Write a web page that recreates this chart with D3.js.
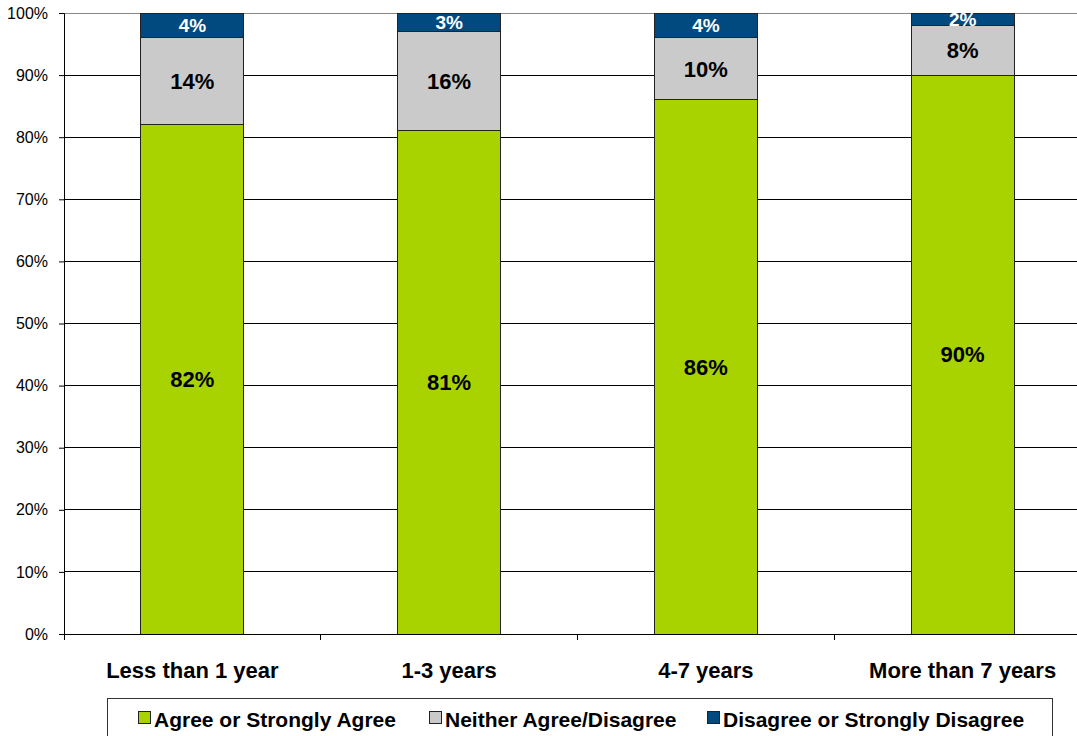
<!DOCTYPE html>
<html>
<head>
<meta charset="utf-8">
<script src="https://cdn.jsdelivr.net/npm/d3@7"></script>
<style>
  html, body { margin: 0; padding: 0; background: #fff; }
  svg { display: block; font-family: "Liberation Sans", Arial, sans-serif; }
</style>
</head>
<body>
<svg id="chart" width="1077" height="736"></svg>
<script>
// Tenure groups along the x axis
const categories = ["Less than 1 year", "1-3 years", "4-7 years", "More than 7 years"];
// Response shares (percent) for each tenure group
const agree = [82, 81, 86, 90];
const neither = [14, 16, 10, 8];
const disagree = [4, 3, 4, 2];
const seriesNames = ["Agree or Strongly Agree", "Neither Agree/Disagree", "Disagree or Strongly Disagree"];
const yTicks = [0, 10, 20, 30, 40, 50, 60, 70, 80, 90, 100];

const colors = ["#A9D300", "#CACACA", "#004A80"];
const labelColors = ["#000", "#000", "#fff"];
const labelSizes = [22, 22, 19];

const svg = d3.select("#chart");
const plotLeft = 64, plotRight = 1091, plotTop = 13, plotBottom = 634;

const x = d3.scaleBand().domain(categories).range([plotLeft, plotRight]).paddingInner(0).paddingOuter(0);
const y = d3.scaleLinear().domain([0, 100]).range([plotBottom, plotTop]);
const barW = 103;

// Gridlines
svg.append("g").selectAll("line").data(yTicks.filter(d => d > 0)).join("line")
  .attr("x1", plotLeft).attr("x2", plotRight)
  .attr("y1", d => y(d)).attr("y2", d => y(d))
  .attr("stroke", d => d === 100 ? "#888" : "#000")
  .attr("stroke-width", 1)
  .attr("shape-rendering", "crispEdges");

// Stack the three response groups
const rows = categories.map((c, i) => ({ cat: c, s0: agree[i], s1: neither[i], s2: disagree[i] }));
const stack = d3.stack().keys(["s0", "s1", "s2"])(rows);

const layers = svg.append("g").selectAll("g").data(stack).join("g")
  .attr("fill", (d, i) => colors[i]);

layers.selectAll("rect").data(d => d).join("rect")
  .attr("x", d => x(d.data.cat) + (x.bandwidth() - barW) / 2)
  .attr("width", barW)
  .attr("y", d => y(d[1]))
  .attr("height", d => y(d[0]) - y(d[1]))
  .attr("stroke", "#222")
  .attr("stroke-width", 1)
  .attr("shape-rendering", "crispEdges");

// Value labels centred in each segment
stack.forEach((layer, i) => {
  svg.append("g").selectAll("text").data(layer).join("text")
    .attr("x", d => x(d.data.cat) + x.bandwidth() / 2)
    .attr("y", d => (y(d[0]) + y(d[1])) / 2)
    .attr("dy", "0.36em")
    .attr("text-anchor", "middle")
    .attr("font-weight", "bold")
    .attr("font-size", labelSizes[i])
    .attr("fill", labelColors[i])
    .text(d => (d[1] - d[0]) + "%");
});

// Y axis
const yAxis = svg.append("g").attr("transform", `translate(${plotLeft},0)`)
  .call(d3.axisLeft(y).tickValues(yTicks).tickSize(5).tickFormat(d => d + "%"));
yAxis.select(".domain").attr("stroke", "#000");
yAxis.selectAll(".tick line").attr("stroke", "#000");
yAxis.selectAll(".tick text").attr("font-size", 16).attr("fill", "#000")
  .attr("font-family", "Liberation Sans, Arial, sans-serif").attr("x", -16);

// X axis baseline with ticks at category boundaries
svg.append("line").attr("x1", plotLeft).attr("x2", plotRight).attr("y1", plotBottom).attr("y2", plotBottom)
  .attr("stroke", "#000").attr("shape-rendering", "crispEdges");
svg.append("g").selectAll("line").data(categories).join("line")
  .attr("x1", d => x(d)).attr("x2", d => x(d))
  .attr("y1", plotBottom).attr("y2", plotBottom + 6)
  .attr("stroke", "#000").attr("shape-rendering", "crispEdges");

// Category labels
svg.append("g").selectAll("text").data(categories).join("text")
  .attr("x", d => x(d) + x.bandwidth() / 2)
  .attr("y", 678)
  .attr("text-anchor", "middle")
  .attr("font-weight", "bold")
  .attr("font-size", 22)
  .attr("fill", "#000")
  .text(d => d);

// Legend
const legend = svg.append("g");
legend.append("rect").attr("x", 107.5).attr("y", 698.5).attr("width", 945).attr("height", 50)
  .attr("fill", "#fff").attr("stroke", "#333").attr("stroke-width", 1);
const legendX = [138, 429, 707];
seriesNames.forEach((name, i) => {
  legend.append("rect").attr("x", legendX[i] + 0.5).attr("y", 711.5).attr("width", 12).attr("height", 12)
    .attr("fill", colors[i]).attr("stroke", "#222").attr("stroke-width", 1);
  legend.append("text").attr("x", legendX[i] + 16).attr("y", 727)
    .attr("font-weight", "bold").attr("font-size", 21).attr("fill", "#000")
    .text(name);
});
</script>
</body>
</html>
